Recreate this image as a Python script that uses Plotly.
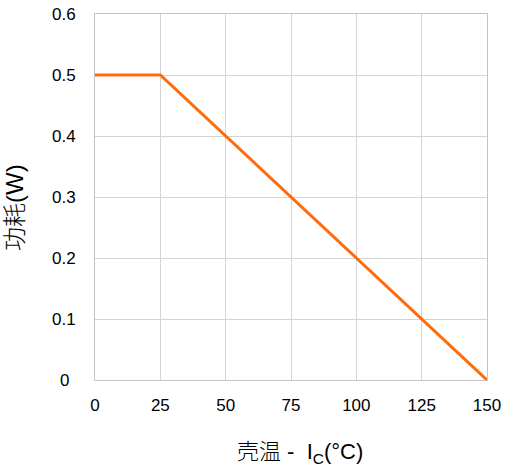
import plotly.graph_objects as go

case_temp = [0, 25, 150]
power_w = [0.5, 0.5, 0.0]
x_ticks = [0, 25, 50, 75, 100, 125, 150]
y_ticks = [0, 0.1, 0.2, 0.3, 0.4, 0.5, 0.6]
y_tick_text = ["0", "0.1", "0.2", "0.3", "0.4", "0.5", "0.6"]

font_family = "Liberation Sans, Arial, Noto Sans CJK SC, sans-serif"

fig = go.Figure()
fig.add_trace(go.Scatter(x=case_temp, y=power_w, mode="lines",
                         line=dict(color="#FF6A0A", width=3), hoverinfo="skip"))

for v, t in zip(y_ticks, y_tick_text):
    fig.add_annotation(x=-0.078, xref="paper", y=v, yref="y", text=t,
                       showarrow=False, xanchor="center", yanchor="middle",
                       font=dict(size=17, color="#000000", family=font_family))

# y-axis title
fig.add_annotation(x=-0.204, xref="paper", y=0.47, yref="paper", text="功耗(W)",
                   showarrow=False, textangle=-90, xanchor="center", yanchor="middle",
                   font=dict(size=24, color="#000000", family=font_family, weight=300))

# x-axis title
fig.add_annotation(x=0.523, xref="paper", y=-0.2, yref="paper",
                   text="壳温 -  I<sub>C</sub>(°C)",
                   showarrow=False, xanchor="center", yanchor="middle",
                   font=dict(size=22, color="#000000", family=font_family, weight=300))

fig.update_layout(
    width=505, height=466,
    margin=dict(l=95, r=18, t=14, b=86),
    paper_bgcolor="white", plot_bgcolor="white",
    showlegend=False,
    font=dict(family=font_family, size=17, color="#000000"),
    xaxis=dict(range=[0, 150], tickvals=x_ticks, showgrid=True, automargin=False,
               gridcolor="#D4D4D4", gridwidth=1, zeroline=False,
               showline=True, linecolor="#C4C4C4", linewidth=1, mirror=True,
               ticks="", ticklabelstandoff=10),
    yaxis=dict(range=[0, 0.6], tickvals=y_ticks, showticklabels=False, automargin=False,
               showgrid=True, gridcolor="#D4D4D4", gridwidth=1, zeroline=False,
               showline=True, linecolor="#C4C4C4", linewidth=1, mirror=True,
               ticks=""),
)

fig.write_html("out.html")
